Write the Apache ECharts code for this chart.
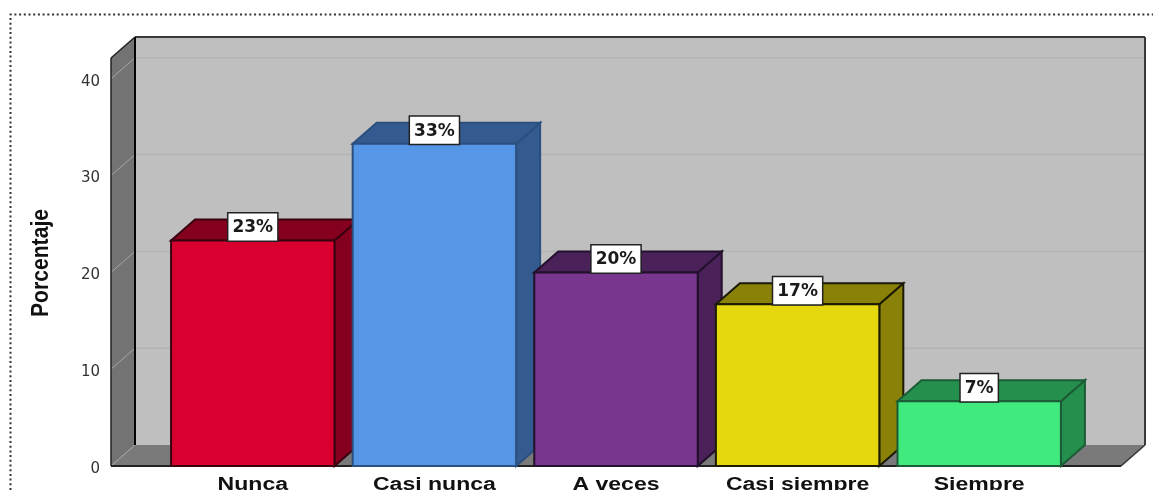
<!DOCTYPE html>
<html>
<head>
<meta charset="utf-8">
<style>html,body{margin:0;padding:0;background:#fff;overflow:hidden}#chart{width:1153px;height:490px}</style>
<script src="https://cdn.jsdelivr.net/npm/echarts@6/dist/echarts.min.js"></script>
</head>
<body>
<div id="chart"></div>
<script>
// Frequency of each response, in percent of respondents
const categories = ['Nunca', 'Casi nunca', 'A veces', 'Casi siempre', 'Siempre'];
const percentages = [23.3, 33.3, 20.0, 16.7, 6.7];
const valueTicks = [0, 10, 20, 30, 40];
const frontColors = ['#d7002e', '#5596e6', '#78368e', '#e5d80e', '#40ea7f'];
const depthColors = ['#85001f', '#335b8f', '#4b2159', '#8a8208', '#258f4d'];
const edgeColors = ['#3a0010', '#2b4f7f', '#22102c', '#1c1a04', '#1c5c36'];

// Oblique projection used by the walls and the bars
const DEPTH_X = 24, DEPTH_Y = 21;
const WALL_OVERHANG = 51;

const poly = (points, fill, stroke, lineWidth) => ({
  type: 'polygon',
  shape: { points },
  style: { fill, stroke: stroke || null, lineWidth: lineWidth || 0 }
});
const seg = (x1, y1, x2, y2, stroke, lineWidth) => ({
  type: 'line',
  shape: { x1, y1, x2, y2 },
  style: { stroke, lineWidth }
});

function renderWalls(params, api) {
  const cs = params.coordSys;
  const left = cs.x - WALL_OVERHANG;
  const right = cs.x + cs.width + WALL_OVERHANG;
  const bottom = cs.y + cs.height;
  const top = cs.y;
  const children = [
    poly([[left + DEPTH_X, top - DEPTH_Y], [right + DEPTH_X, top - DEPTH_Y], [right + DEPTH_X, bottom - DEPTH_Y], [left + DEPTH_X, bottom - DEPTH_Y]], '#bfbfbf'),
    poly([[left, top], [left + DEPTH_X, top - DEPTH_Y], [left + DEPTH_X, bottom - DEPTH_Y], [left, bottom]], '#737373'),
    poly([[left, bottom], [left + DEPTH_X, bottom - DEPTH_Y], [right + DEPTH_X, bottom - DEPTH_Y], [right, bottom]], '#7a7a7a')
  ];
  valueTicks.forEach(v => {
    const y = api.coord([0, v])[1];
    if (v > 0) {
      children.push(seg(left + DEPTH_X, y - DEPTH_Y, right + DEPTH_X, y - DEPTH_Y, '#b3b3b3', 1.5));
    }
    children.push(seg(left, y, left + DEPTH_X, y - DEPTH_Y, '#a6a6a6', 1));
  });
  children.push(
    seg(left + DEPTH_X, top - DEPTH_Y, right + DEPTH_X, top - DEPTH_Y, '#3a3a3a', 2),
    seg(left + DEPTH_X, top - DEPTH_Y, left + DEPTH_X, bottom - DEPTH_Y, '#000', 2),
    seg(right + DEPTH_X, top - DEPTH_Y, right + DEPTH_X, bottom - DEPTH_Y, '#3a3a3a', 2),
    seg(left, top, left + DEPTH_X, top - DEPTH_Y, '#222', 1.5),
    seg(left, top, left, bottom, '#222', 1.5),
    seg(left, bottom, right, bottom, '#222', 2),
    seg(right, bottom, right + DEPTH_X, bottom - DEPTH_Y, '#333', 1.5)
  );
  return { type: 'group', silent: true, children };
}

function renderBar(params, api) {
  const idx = api.value(0);
  const val = api.value(1);
  const topPt = api.coord([idx, val]);
  const basePt = api.coord([idx, 0]);
  const w = api.size([1, 0])[0] * 0.9;
  const x0 = topPt[0] - w / 2, x1 = topPt[0] + w / 2;
  const yT = topPt[1], yB = basePt[1];
  const front = frontColors[idx], dark = depthColors[idx], edge = edgeColors[idx];
  return {
    type: 'group',
    children: [
      poly([[x1, yT], [x1 + DEPTH_X, yT - DEPTH_Y], [x1 + DEPTH_X, yB - DEPTH_Y], [x1, yB]], dark, edge, 2),
      poly([[x0, yT], [x0 + DEPTH_X, yT - DEPTH_Y], [x1 + DEPTH_X, yT - DEPTH_Y], [x1, yT]], dark, edge, 2),
      poly([[x0, yT], [x1, yT], [x1, yB], [x0, yB]], front, edge, 2),
      {
        type: 'text',
        z2: 10,
        x: topPt[0],
        y: yT,
        style: {
          text: Math.round(val) + '%',
          font: 'bold 17px "DejaVu Sans"',
          fill: '#1a1a1a',
          align: 'center',
          verticalAlign: 'bottom',
          backgroundColor: '#fff',
          borderColor: '#222',
          borderWidth: 1.5,
          padding: [6, 4, 4, 4]
        }
      },
      // Category name under the bar, widened like the rest of the lettering
      {
        type: 'text',
        x: topPt[0],
        y: yB + 10,
        scaleX: 1.28,
        style: {
          text: categories[idx],
          font: 'bold 18px "Liberation Sans"',
          fill: '#111',
          align: 'center',
          verticalAlign: 'top'
        }
      }
    ]
  };
}

const chart = echarts.init(document.getElementById('chart'));
chart.setOption({
  animation: false,
  backgroundColor: '#fff',
  grid: { left: 162, width: 908, top: 58, height: 408 },
  xAxis: {
    type: 'category',
    data: categories,
    axisLine: { show: false },
    axisTick: { show: false },
    splitLine: { show: false },
    axisLabel: { show: false }
  },
  yAxis: {
    type: 'value',
    min: 0,
    max: 42.15,
    interval: 10,
    offset: WALL_OVERHANG,
    axisLine: { show: false },
    axisTick: { show: false },
    splitLine: { show: false },
    axisLabel: {
      showMaxLabel: false,
      margin: 11,
      color: '#333',
      fontFamily: 'DejaVu Sans',
      fontSize: 15,
      verticalAlign: 'top',
      lineHeight: 6
    }
  },
  series: [
    {
      type: 'custom',
      z: 1,
      clip: false,
      silent: true,
      renderItem: renderWalls,
      data: [[0, 0]],
      encode: { x: 0, y: 1 }
    },
    {
      type: 'custom',
      z: 2,
      clip: false,
      renderItem: renderBar,
      data: percentages.map((v, i) => [i, v]),
      encode: { x: 0, y: 1 }
    }
  ],
  graphic: [
    {
      type: 'polyline',
      silent: true,
      shape: { points: [[10.5, 490], [10.5, 14.5], [1153, 14.5]] },
      style: { fill: null, stroke: '#333', lineWidth: 2, lineDash: [2, 2.7] }
    },
    {
      type: 'text',
      silent: true,
      x: 41,
      y: 263,
      rotation: Math.PI / 2,
      scaleX: 0.88,
      style: {
        text: 'Porcentaje',
        font: 'bold 24px "Liberation Sans"',
        fill: '#111',
        align: 'center',
        verticalAlign: 'middle'
      }
    }
  ]
});
</script>
</body>
</html>
